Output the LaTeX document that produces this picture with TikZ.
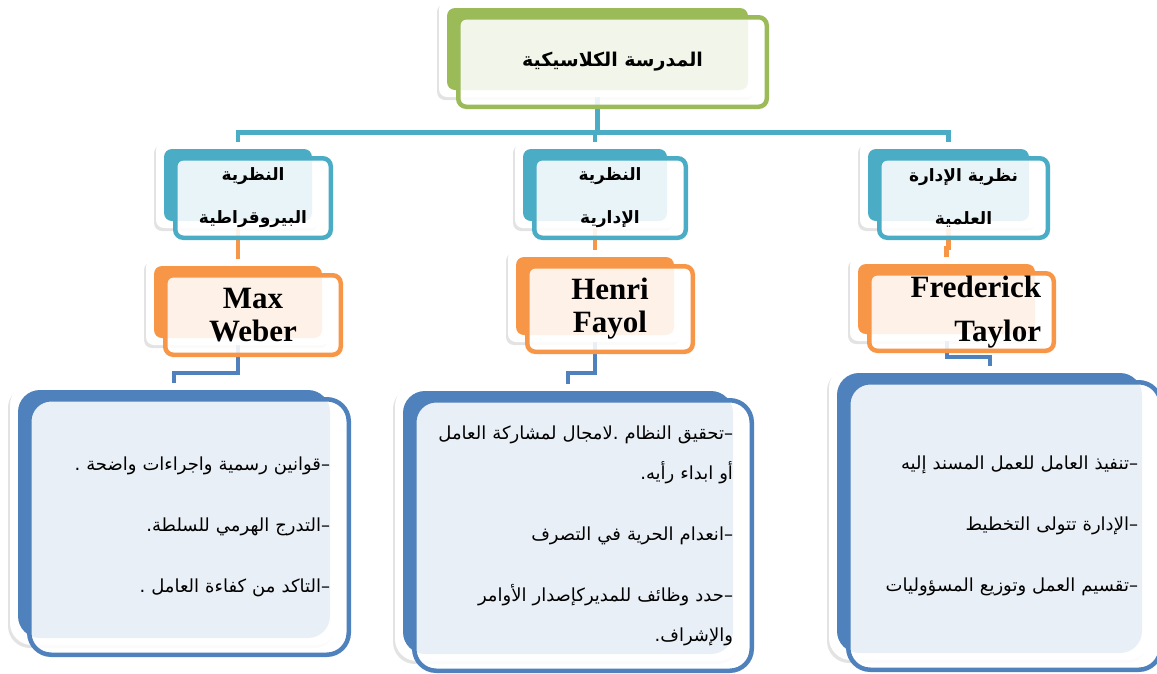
\documentclass[tikz,border=0pt]{standalone}
\usepackage{fontspec}
\setmainfont{Liberation Serif}
\newfontfamily\arabicfont[Script=Arabic]{DejaVu Sans}
\TeXXeTstate=1
\usetikzlibrary{shadows,backgrounds}

\definecolor{grn}{HTML}{9BBB59}
\definecolor{tea}{HTML}{4BACC6}
\definecolor{org}{HTML}{F79646}
\definecolor{blu}{HTML}{4F81BD}

% one right-to-left run of Arabic
\newcommand\ar[1]{\beginR #1\endR}

% A layered box: white shadowed card, solid coloured plate, and a
% semi-transparent framed node (named #1) offset to the lower right.
% #1 name, #2 colour, #3-#6 plate corners, #7 corner radius,
% #8 extra node options, #9 node text
\newcommand\layered[9]{%
  \fill[white, rounded corners=#7pt,
        drop shadow={shadow xshift=-2pt, shadow yshift=-3pt, opacity=0.22}]
    ({#3-8},{#4-7}) rectangle ({#5+8},{#6+7});
  \fill[#2, rounded corners=#7pt] (#3,#4) rectangle (#5,#6);
  \coordinate (#1-top) at ({(#3+#5)/2},#4);
  \coordinate (#1-bot) at ({(#3+#5)/2},#6);
  \pgfmathsetmacro\platew{#5-#3+7.5}%
  \pgfmathsetmacro\plateh{#6-#4+7.5}%
  \node[frame=#2, rounded corners=#7pt, minimum width=\platew pt,
        minimum height=\plateh pt, #8] (#1)
    at ({(#3+#5)/2+15},{(#4+#6)/2+13}) {#9};
}

\begin{document}
\begin{tikzpicture}[x=1pt, y=-1pt,
  frame/.style={draw=#1, line width=4.5pt, fill=white, fill opacity=0.88,
                text opacity=1, inner sep=0pt, outer sep=0pt, text=black},
  link/.style={line width=4.5pt, draw=#1},
  title/.style={font=\arabicfont\bfseries\fontsize{19}{22}\selectfont},
  head/.style={align=center, font=\arabicfont\bfseries\fontsize{17}{43}\selectfont},
  person/.style={align=center, font=\bfseries\fontsize{31}{33}\selectfont},
  points/.style={align=right, text width=#1,
                 font=\arabicfont\fontsize{18}{40}\selectfont}]

\useasboundingbox (0,0) rectangle (1157,673);

% top level
\layered{T}{grn}{447}{8}{748}{90}{8}{title}{\ar{المدرسة الكلاسيكية}}

% the three schools
\layered{H1}{tea}{164}{149}{312}{221}{8}{head}{\ar{النظرية}\\\ar{البيروقراطية}}
\layered{H2}{tea}{523}{149}{667}{221}{8}{head}{\ar{النظرية}\\\ar{الإدارية}}
\layered{H3}{tea}{868}{149}{1029}{221}{8}{head}{\ar{نظرية الإدارة}\\\ar{العلمية}}

% founders
\layered{O1}{org}{154}{266}{322}{338}{8}{person}{Max\\Weber}
\layered{O2}{org}{516}{257}{674}{335}{8}{person}{Henri\\Fayol}
\layered{O3}{org}{858}{264}{1035}{334}{8}{person, align=right, text width=159pt,
  font=\bfseries\fontsize{31}{44}\selectfont}{Frederick\\Taylor}

% principles
\layered{B1}{blu}{18}{390}{330}{638}{22}{points=282pt}{%
  \ar{–قوانين رسمية واجراءات واضحة .}\\[21pt]
  \ar{–التدرج الهرمي للسلطة.}\\[21pt]
  \ar{–التاكد من كفاءة العامل .}}
\layered{B2}{blu}{403}{391}{733}{654}{22}{points=300pt}{%
  \ar{–تحقيق النظام .لامجال لمشاركة العامل}\\
  \ar{أو ابداء رأيه.}\\[21pt]
  \ar{–انعدام الحرية في التصرف}\\[21pt]
  \ar{–حدد وظائف للمديركإصدار الأوامر}\\
  \ar{والإشراف.}}
\layered{B3}{blu}{837}{373}{1142}{653}{22}{points=267pt}{%
  \ar{–تنفيذ العامل للعمل المسند إليه}\\[21pt]
  \ar{–الإدارة تتولى التخطيط}\\[21pt]
  \ar{–تقسيم العمل وتوزيع المسؤوليات}}

% connectors, behind the boxes
\begin{scope}[on background layer]
  \coordinate (bus) at (0,132.5);
  \draw[link=tea] (T-bot) -- (T-bot |- bus);
  \draw[link=tea] (H1-top) -- (H1-top |- bus) -- (H3-top |- bus) -- (H3-top);
  \draw[link=tea] (H2-top) -- (H2-top |- bus);

  \draw[link=org] (H1-bot) -- (O1-top);
  \draw[link=org] (H2-bot) -- (O2-top);
  \coordinate (jog) at (0,248);
  \draw[link=org] (H3-bot) -- (H3-bot |- jog) -- (O3-top |- jog) -- (O3-top);

  \coordinate (k1) at (0,373);
  \coordinate (k3) at (0,357);
  \draw[link=blu, line width=4pt] (O1-bot) -- (O1-bot |- k1) -- (B1-top |- k1) -- (B1-top);
  \draw[link=blu, line width=4pt] (O2-bot) -- (O2-bot |- k1) -- (B2-top |- k1) -- (B2-top);
  \draw[link=blu, line width=4pt] (O3-bot) -- (O3-bot |- k3) -- (B3-top |- k3) -- (B3-top);
\end{scope}
\end{tikzpicture}
\end{document}
